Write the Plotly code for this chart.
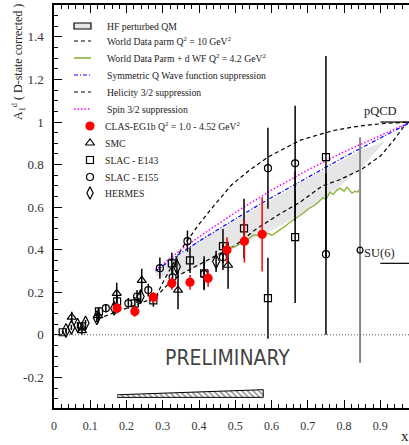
import plotly.graph_objects as go

# ---------------- data ----------------
clas_x = [0.174, 0.223, 0.274, 0.325, 0.375, 0.425, 0.477, 0.525, 0.574]
clas_y = [0.125, 0.110, 0.176, 0.242, 0.247, 0.266, 0.398, 0.440, 0.472]
clas_e = [0.025, 0.025, 0.025, 0.030, 0.035, 0.040, 0.060, 0.100, 0.175]

smc_x = [0.049, 0.077, 0.122, 0.173, 0.242, 0.342, 0.480]
smc_y = [0.083, 0.020, 0.090, 0.195, 0.256, 0.210, 0.327]
smc_e = [0.025, 0.020, 0.035, 0.050, 0.055, 0.090, 0.110]

e143_x = [0.024, 0.077, 0.124, 0.174, 0.223, 0.274, 0.325, 0.375, 0.414, 0.466, 0.524, 0.590, 0.665, 0.750]
e143_y = [0.012, 0.040, 0.110, 0.157, 0.148, 0.162, 0.336, 0.350, 0.289, 0.417, 0.500, 0.172, 0.459, 0.835]
e143_e = [0.010, 0.015, 0.020, 0.025, 0.030, 0.030, 0.050, 0.060, 0.080, 0.080, 0.140, 0.190, 0.310, 0.475]

e155_x = [0.143, 0.205, 0.229, 0.260, 0.292, 0.327, 0.368, 0.414, 0.466, 0.590, 0.665, 0.750]
e155_y = [0.125, 0.148, 0.180, 0.210, 0.313, 0.270, 0.440, 0.285, 0.365, 0.783, 0.806, 0.379]
e155_e = [0.020, 0.025, 0.030, 0.030, 0.050, 0.050, 0.050, 0.070, 0.060, 0.190, 0.270, 0.379]

hermes_x = [0.033, 0.048, 0.065, 0.087, 0.118, 0.166, 0.239, 0.339, 0.447]
hermes_y = [0.020, 0.035, 0.045, 0.055, 0.080, 0.125, 0.180, 0.320, 0.345]
hermes_e = [0.010, 0.012, 0.015, 0.015, 0.020, 0.025, 0.030, 0.040, 0.050]

grey_x = [0.844]
grey_y = [0.398]
grey_e = [0.530]

# model curves
wd_x = [0.12, 0.16, 0.20, 0.24, 0.28, 0.30, 0.32, 0.34, 0.36, 0.38, 0.40, 0.44, 0.49, 0.54,
        0.59, 0.64, 0.68, 0.73, 0.77, 0.82, 0.86, 0.91, 0.95, 0.979]
wd_y = [0.075, 0.100, 0.125, 0.150, 0.175, 0.245, 0.310, 0.370, 0.425, 0.475, 0.520, 0.605,
        0.705, 0.775, 0.835, 0.880, 0.915, 0.940, 0.960, 0.975, 0.985, 0.993, 0.997, 1.000]

hel_x = [0.28, 0.31, 0.35, 0.40, 0.44, 0.50, 0.56, 0.62, 0.68, 0.74, 0.79, 0.85, 0.90, 0.935, 0.963, 0.979]
hel_y = [0.175, 0.230, 0.285, 0.330, 0.365, 0.420, 0.500, 0.565, 0.625, 0.700, 0.730, 0.780, 0.840, 0.910, 0.975, 1.000]

sym_x = [0.28, 0.35, 0.40, 0.50, 0.60, 0.70, 0.80, 0.90, 0.979]
sym_y = [0.300, 0.385, 0.440, 0.545, 0.645, 0.740, 0.835, 0.925, 0.995]

spin_x = [0.28, 0.35, 0.40, 0.50, 0.60, 0.70, 0.80, 0.90, 0.979]
spin_y = [0.305, 0.400, 0.460, 0.575, 0.680, 0.775, 0.860, 0.935, 0.997]

band_x = [0.28, 0.30, 0.35, 0.40, 0.45, 0.50, 0.55, 0.60, 0.68, 0.74, 0.79, 0.85, 0.913]
band_hi = [0.295, 0.325, 0.380, 0.445, 0.490, 0.540, 0.585, 0.635, 0.715, 0.770, 0.815, 0.870, 0.910]
band_lo = [0.280, 0.270, 0.290, 0.320, 0.360, 0.410, 0.450, 0.490, 0.565, 0.635, 0.700, 0.790, 0.910]

dwf_x = [0.472, 0.486, 0.500, 0.521, 0.535, 0.549, 0.565, 0.588, 0.601, 0.612, 0.623, 0.637,
         0.651, 0.665, 0.679, 0.690, 0.700, 0.710, 0.720, 0.730, 0.742, 0.750, 0.761, 0.770,
         0.780, 0.789, 0.800, 0.808, 0.815, 0.822, 0.830, 0.836, 0.842]
dwf_y = [0.385, 0.407, 0.415, 0.435, 0.450, 0.468, 0.470, 0.477, 0.468, 0.480, 0.492, 0.510,
         0.529, 0.545, 0.565, 0.575, 0.590, 0.600, 0.610, 0.625, 0.645, 0.635, 0.670, 0.660,
         0.680, 0.689, 0.675, 0.694, 0.680, 0.666, 0.675, 0.670, 0.680]

sys_x = [0.174, 0.577]
sys_hi = [-0.282, -0.258]
sys_lo = [-0.294, -0.294]

pqcd_x = [0.90, 0.979]
pqcd_y = [1.0, 1.0]
su6_x = [0.90, 0.979]
su6_y = [0.336, 0.336]

x_ticks = [0, 0.1, 0.2, 0.3, 0.4, 0.5, 0.6, 0.7, 0.8, 0.9]
x_labels = ["0", "0.1", "0.2", "0.3", "0.4", "0.5", "0.6", "0.7", "0.8", "0.9"]
y_ticks = [-0.2, 0, 0.2, 0.4, 0.6, 0.8, 1.0, 1.2, 1.4]
y_labels = ["-0.2", "0", "0.2", "0.4", "0.6", "0.8", "1", "1.2", "1.4"]

legend_labels = [
    "HF perturbed QM",
    "World Data parm Q<sup>2</sup> = 10 GeV<sup>2</sup>",
    "World Data Parm + d WF Q<sup>2</sup> = 4.2 GeV<sup>2</sup>",
    "Symmetric Q Wave function suppression",
    "Helicity 3/2 suppression",
    "Spin 3/2 suppression",
    "CLAS-EG1b Q<sup>2</sup> = 1.0 - 4.52 GeV<sup>2</sup>",
    "SMC",
    "SLAC - E143",
    "SLAC - E155",
    "HERMES",
]

# ---------------- geometry ----------------
W, H = 409, 445
ML, MR, MT, MB = 54, 0, 5, 37
XR = [0, 0.979]
YR = [-0.344, 1.55]
PW = W - ML - MR
PH = H - MT - MB
SX = PW / (XR[1] - XR[0])
SY = PH / (YR[1] - YR[0])


def px2x(p):
    return XR[0] + (p - ML) / SX


def py2y(p):
    return YR[1] - (p - MT) / SY


def px2paper(p):
    return (p - ML) / PW


def py2paper(p):
    return (H - MB - p) / PH


SERIF = "Liberation Serif, Times New Roman, serif"
GREEN = "#8ab43c"
BAND = "#e6e6e6"

fig = go.Figure()

# band
fig.add_trace(go.Scatter(
    x=band_x + band_x[::-1], y=band_hi + band_lo[::-1],
    fill="toself", fillcolor=BAND, line=dict(width=0), mode="lines",
    hoverinfo="skip", showlegend=False))

# curves
fig.add_trace(go.Scatter(x=wd_x, y=wd_y, mode="lines",
                         line=dict(color="black", width=1.2, dash="4px,3px"), showlegend=False))
fig.add_trace(go.Scatter(x=hel_x, y=hel_y, mode="lines",
                         line=dict(color="black", width=1.2, dash="4px,3px"), showlegend=False))
fig.add_trace(go.Scatter(x=dwf_x, y=dwf_y, mode="lines",
                         line=dict(color=GREEN, width=1.4), showlegend=False))
fig.add_trace(go.Scatter(x=spin_x, y=spin_y, mode="lines",
                         line=dict(color="#ff00ff", width=1.5, dash="1.5px,2px"), showlegend=False))
fig.add_trace(go.Scatter(x=sym_x, y=sym_y, mode="lines",
                         line=dict(color="#0000ff", width=1.2, dash="4px,2px,1px,2px"), showlegend=False))
fig.add_trace(go.Scatter(x=pqcd_x, y=pqcd_y, mode="lines",
                         line=dict(color="black", width=1.2), showlegend=False))
fig.add_trace(go.Scatter(x=su6_x, y=su6_y, mode="lines",
                         line=dict(color="black", width=1.2), showlegend=False))

# systematic band
fig.add_trace(go.Scatter(
    x=sys_x + sys_x[::-1], y=sys_hi + sys_lo[::-1], fill="toself", mode="lines",
    fillcolor="white",
    fillpattern=dict(shape="\\", fgcolor="black", bgcolor="white", size=4, solidity=0.35),
    line=dict(color="black", width=1), showlegend=False))


def data_trace(x, y, e, symbol, size, color, ecolor, lw=1.2, ethick=1.5):
    return go.Scatter(
        x=x, y=y, mode="markers",
        marker=dict(symbol=symbol, size=size, color=color,
                    line=dict(color=color, width=lw)),
        error_y=dict(type="data", array=e, visible=True, color=ecolor,
                     thickness=ethick, width=0),
        showlegend=False)


fig.add_trace(data_trace(grey_x, grey_y, grey_e, "circle-open", 6, "black", "#888888", ethick=2))
fig.add_trace(data_trace(hermes_x, hermes_y, hermes_e, "diamond-tall-open", 10, "black", "black"))
fig.add_trace(data_trace(smc_x, smc_y, smc_e, "triangle-up-open", 8, "black", "black"))
fig.add_trace(data_trace(e143_x, e143_y, e143_e, "square-open", 7, "black", "black"))
fig.add_trace(data_trace(e155_x, e155_y, e155_e, "circle-open", 7, "black", "black"))
fig.add_trace(data_trace(clas_x, clas_y, clas_e, "circle", 8, "#ff0000", "#ff0000"))

# ---------------- manual legend ----------------
leg_y = [26, 41, 58, 75, 92, 109, 126, 143, 160, 177, 193]
shapes = []
annotations = []
x_line0, x_line1 = px2x(74), px2x(91)
shapes.append(dict(type="rect", xref="x", yref="y", x0=x_line0, x1=x_line1,
                   y0=py2y(leg_y[0] + 3), y1=py2y(leg_y[0] - 3),
                   fillcolor=BAND, line=dict(color="black", width=1.2)))
line_styles = [
    dict(color="black", width=1.2, dash="4px,3px"),
    dict(color=GREEN, width=1.6),
    dict(color="#0000ff", width=1.2, dash="4px,2px,1px,2px"),
    dict(color="black", width=1.2, dash="4px,3px"),
    dict(color="#ff00ff", width=1.5, dash="1.5px,2px"),
]
for i, st in enumerate(line_styles):
    yy = py2y(leg_y[i + 1])
    shapes.append(dict(type="line", xref="x", yref="y", x0=x_line0, x1=x_line1,
                       y0=yy, y1=yy, line=st))
leg_mk = [("circle", 8, "#ff0000"), ("triangle-up-open", 8, "black"),
          ("square-open", 7, "black"), ("circle-open", 7, "black"),
          ("diamond-tall-open", 9, "black")]
for i, (sym, sz, col) in enumerate(leg_mk):
    fig.add_trace(go.Scatter(x=[px2x(90)], y=[py2y(leg_y[6 + i])], mode="markers",
                             marker=dict(symbol=sym, size=sz, color=col,
                                         line=dict(color=col, width=1.2)),
                             showlegend=False, hoverinfo="skip"))
for i, lab in enumerate(legend_labels):
    tx = 105 if i < 6 else 103
    annotations.append(dict(x=px2x(tx), y=py2y(leg_y[i]), xref="x", yref="y", text=lab,
                            showarrow=False, xanchor="left", yanchor="middle",
                            font=dict(family=SERIF, size=9.7, color="#222")))

# zero line
shapes.append(dict(type="line", xref="paper", yref="y", x0=0, x1=1, y0=0, y1=0,
                   line=dict(color="#555", width=1, dash="1px,2px")))

# texts
annotations.append(dict(x=px2x(362), y=py2y(111), xref="x", yref="y", text="pQCD",
                        showarrow=False, xanchor="left", yanchor="middle",
                        font=dict(family=SERIF, size=12.5, color="#222")))
annotations.append(dict(x=px2x(362), y=py2y(253), xref="x", yref="y", text="SU(6)",
                        showarrow=False, xanchor="left", yanchor="middle",
                        font=dict(family=SERIF, size=12.5, color="#222")))
annotations.append(dict(x=px2x(227), y=py2y(358), xref="x", yref="y", text="PRELIMINARY",
                        showarrow=False, xanchor="center", yanchor="middle",
                        font=dict(family="DejaVu Sans Condensed, Liberation Sans Narrow, Liberation Sans",
                                  size=21, color="#444")))
annotations.append(dict(x=px2paper(18), y=py2paper(62), xref="paper", yref="paper",
                        text="A<sub>1</sub><sup>d</sup> ( D-state corrected )",
                        textangle=-90, showarrow=False, xanchor="center", yanchor="middle",
                        font=dict(family=SERIF, size=12, color="#222")))
annotations.append(dict(x=px2paper(405), y=py2paper(436), xref="paper", yref="paper", text="x",
                        showarrow=False, xanchor="center", yanchor="middle",
                        font=dict(family=SERIF, size=15, color="#222")))

fig.update_layout(
    width=W, height=H, margin=dict(l=ML, r=MR, t=MT, b=MB, autoexpand=False),
    paper_bgcolor="white", plot_bgcolor="white",
    shapes=shapes, annotations=annotations, showlegend=False,
    xaxis=dict(range=XR, showgrid=False, zeroline=False, showline=True,
               linecolor="black", linewidth=1.5, mirror="allticks",
               ticks="inside", ticklen=8, tickwidth=1.2, tickcolor="black",
               tickvals=x_ticks, ticktext=x_labels,
               minor=dict(dtick=0.02, tick0=0, ticks="inside", ticklen=4, tickcolor="black"),
               tickfont=dict(family=SERIF, size=12, color="#333"), ticklabelstandoff=6),
    yaxis=dict(range=YR, showgrid=False, zeroline=False, showline=True,
               linecolor="black", linewidth=1.5, mirror=False,
               ticks="inside", ticklen=8, tickwidth=1.2, tickcolor="black",
               tickvals=y_ticks, ticktext=y_labels,
               minor=dict(dtick=0.05, tick0=0, ticks="inside", ticklen=4, tickcolor="black"),
               tickfont=dict(family=SERIF, size=13, color="#333"), ticklabelstandoff=6),
)

fig.write_html("out.html", config={"displayModeBar": False},
               post_script="document.body.style.margin='0';document.body.style.padding='0';")
